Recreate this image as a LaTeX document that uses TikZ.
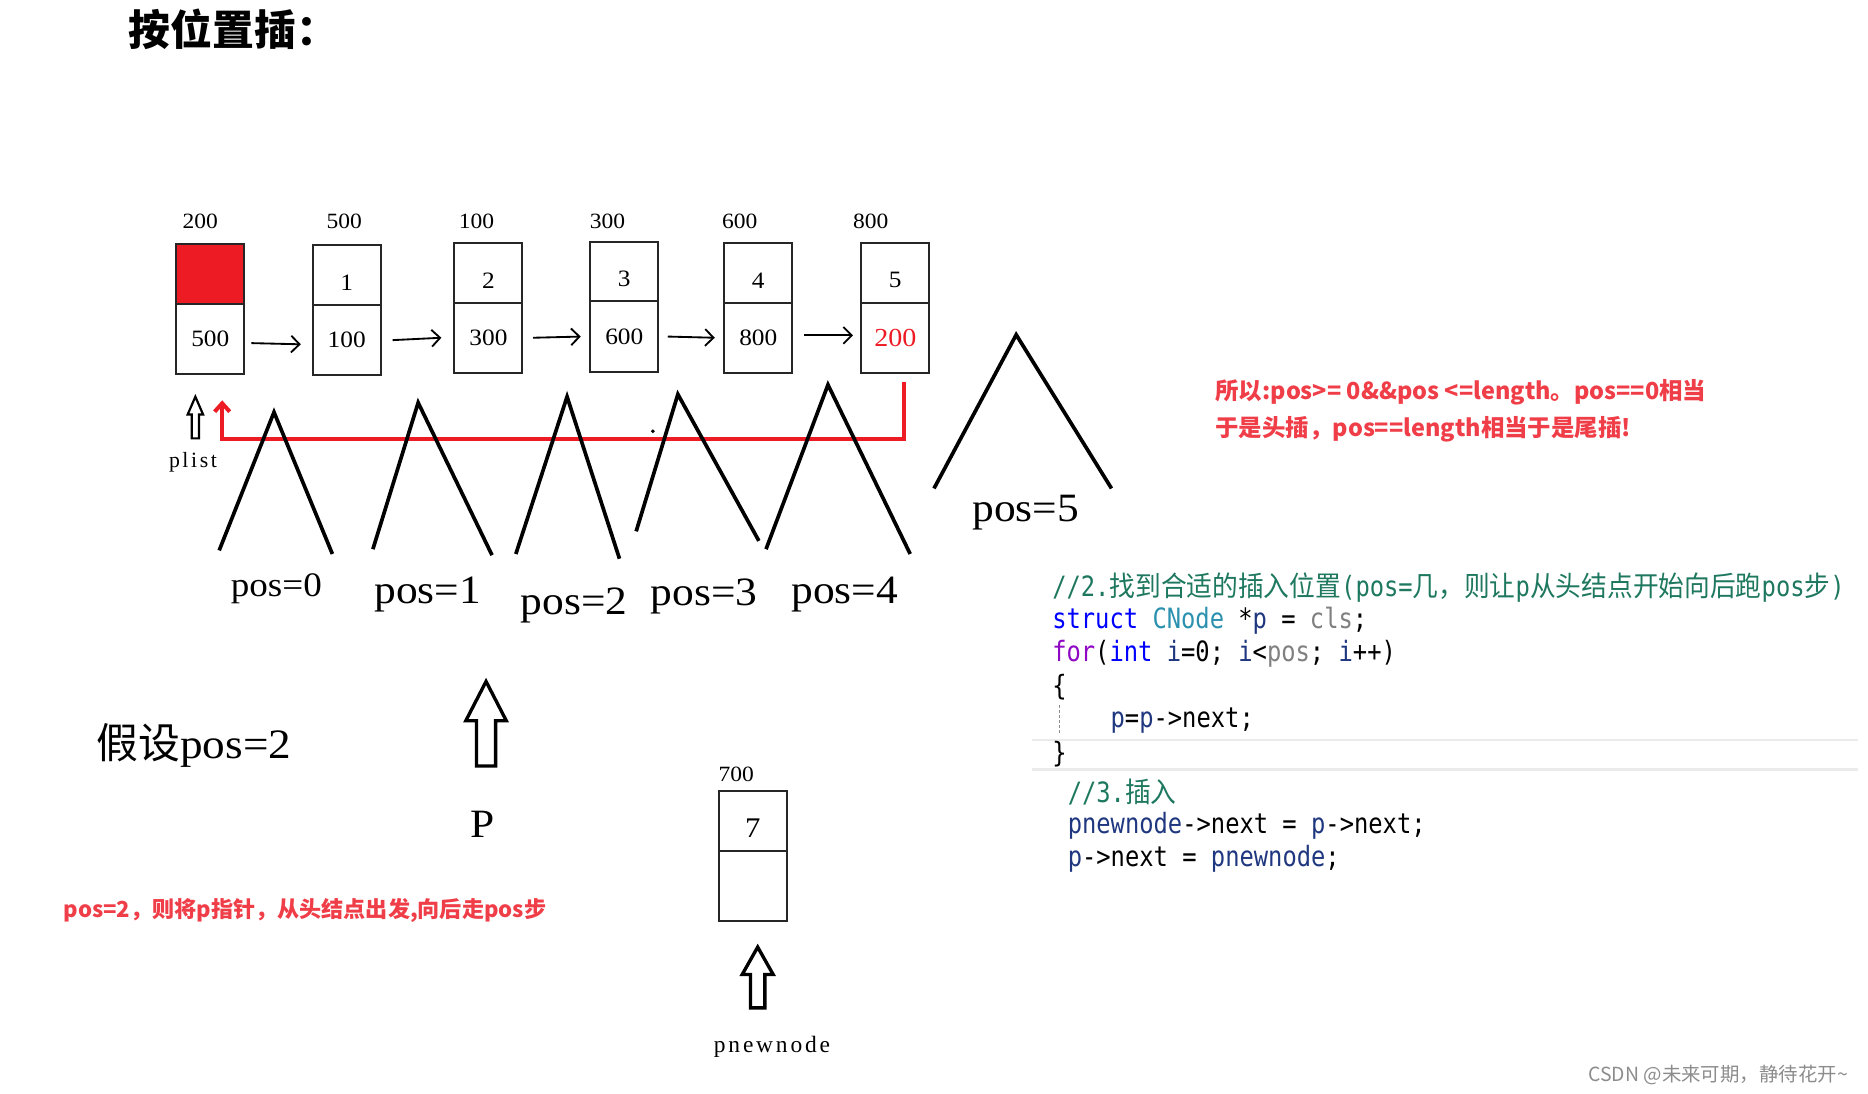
\documentclass[tikz,border=0pt]{standalone}
\usepackage{fontspec}
\setmainfont{Liberation Serif}
\newfontfamily\sketchfont[FakeStretch=1.08]{Liberation Serif}
\newfontfamily\labelfont[LetterSpace=12]{Liberation Serif}
\newfontfamily\cjkfont{Noto Sans CJK SC}
\newfontfamily\codefont[FakeStretch=0.85]{DejaVu Sans Mono}
\newfontfamily\codecjk[FakeStretch=0.92]{Noto Sans CJK SC}
\usetikzlibrary{arrows.meta,calc,positioning}

\definecolor{paintred}{RGB}{237,28,36}
\definecolor{notered}{RGB}{240,62,72}
\definecolor{kwblue}{RGB}{0,0,255}
\definecolor{kwpurple}{RGB}{143,8,196}
\definecolor{typeteal}{RGB}{43,145,175}
\definecolor{varblue}{RGB}{31,55,127}
\definecolor{paramgray}{RGB}{128,128,128}
\definecolor{cmtgreen}{RGB}{30,120,95}

\newcommand\cj[1]{{\codecjk #1}}
\newcommand\low[1]{\raisebox{-4.5pt}[\height][\depth]{#1}}

\begin{document}
\begin{tikzpicture}[
  x=0.025cm, y=-0.025cm,
  cell/.style={draw=black!85,line width=1.2pt,minimum width=1.425cm,inner sep=0pt,outer sep=0pt,
    font=\sketchfont\fontsize{14}{16}\selectfont},
  datacell/.style={cell,minimum height=1.25cm},
  nextcell/.style={cell,minimum height=1.475cm},
  addr/.style={font=\sketchfont\fontsize{13}{15}\selectfont},
  link/.style={line width=1.1pt,-{Straight Barb[length=5pt,width=10pt]}},
  back/.style={draw=paintred,line width=2.4pt},
  peak/.style={line width=2.2pt},
  posl/.style={font=\sketchfont\fontsize{24}{26}\selectfont},
  hollow/.style={draw,line width=2pt,fill=white,line join=miter},
  note/.style={text=notered,font=\cjkfont\bfseries\fontsize{14}{22}\selectfont,align=left,inner sep=0pt},
  code/.style={anchor=west,inner sep=0pt,font=\codefont\fontsize{16.7}{20}\selectfont},
  sep/.style={draw=black!8,line width=1.5pt}
]
\useasboundingbox (0,0) rectangle (1568,918);

\node[anchor=west,font=\cjkfont\bfseries\fontsize{25}{28}\selectfont] (title) at (103,25) {按位置插：};

% the list: data cell on top, next field below
\node[datacell,fill=paintred] (d0) at (176.5,230) {};
\node[nextcell,below=0pt of d0] (n0) {500};
\node[datacell] (d1) at (291,231) {\low{1}};
\node[nextcell,below=0pt of d1] (n1) {100};
\node[datacell] (d2) at (410,229) {\low{2}};
\node[nextcell,below=0pt of d2] (n2) {300};
\node[datacell] (d3) at (524,228) {\low{3}};
\node[nextcell,below=0pt of d3] (n3) {600};
\node[datacell] (d4) at (636.5,229) {\low{4}};
\node[nextcell,below=0pt of d4] (n4) {800};
\node[datacell] (d5) at (751.5,229) {\low{5}};
\node[nextcell,below=0pt of d5,text=paintred,font=\sketchfont\fontsize{15.5}{17}\selectfont] (n5) {200};

\node[addr] (a0) at (168,186) {200};
\node[addr] (a1) at (289,186) {500};
\node[addr] (a2) at (400,186) {100};
\node[addr] (a3) at (510,186) {300};
\node[addr] (a4) at (621,186) {600};
\node[addr] (a5) at (731,186) {800};

\draw[link] ($(n0.east)+(6,3.5)$) -- ($(n1.west)+(-10,3.5)$);
\draw[link] ($(n1.east)+(10,0)$) -- ($(n2.west)+(-11,0)$);
\draw[link] ($(n2.east)+(9,0)$) -- ($(n3.west)+(-8,0)$);
\draw[link] ($(n3.east)+(8,0)$) -- ($(n4.west)+(-8,0)$);
\draw[link] ($(n4.east)+(10,-2)$) -- ($(n5.west)+(-7,-2)$);

% tail points back to the head
\draw[back,-{Straight Barb[length=5pt,width=9pt]}] ($(n5.south)+(7.5,8)$) |- ($(n0.south)+(10,54.5)$) -- ($(n0.south)+(10,22)$);

% plist pointer
\draw[hollow,line width=1.3pt] (161,368) -- (161,348) -- (157.5,348) -- (164,333) -- (170.5,348) -- (167,348) -- (167,368) -- cycle;
\node[font=\labelfont\fontsize{13}{15}\selectfont] (plist) at (162,388) {plist};

% steps
\draw[peak] (184,462) -- (230,346) -- (279,465);
\draw[peak] (313,461) -- (351,338) -- (413,466);
\draw[peak] (433,465) -- (476,333) -- (520,469);
\draw[peak] (534,446) -- (569,331) -- (637,454);
\draw[peak] (643,461) -- (695,323) -- (764,465);
\draw[peak] (784,410) -- (853,281) -- (933,410);
\fill (548,362) circle (1.6);

\node[posl,font=\sketchfont\fontsize{20.5}{22}\selectfont] (pos0) at (232,494) {pos=0};
\node[posl] (pos1) at (359,499) {pos=1};
\node[posl] (pos2) at (482,508) {pos=2};
\node[posl] (pos3) at (591,501) {pos=3};
\node[posl] (pos4) at (709,499) {pos=4};
\node[posl] (pos5) at (861,430) {pos=5};

\node[note,anchor=north west] (rule) at (1020,318)
  {所以:pos>= 0\&\&pos <=length。pos==0相当\\于是头插，pos==length相当于是尾插!};

% assumption and pointer p
\node[anchor=west,font=\sketchfont\fontsize{25}{28}\selectfont] (assume) at (76,626) {{\cjkfont 假设}pos=2};
\draw[hollow] (400,643) -- (400,605) -- (391,605) -- (408,572) -- (425,605) -- (416,605) -- (416,643) -- cycle;
\node[font=\sketchfont\fontsize{24}{26}\selectfont] (pname) at (405,692) {P};
\node[note,anchor=west,font=\cjkfont\bfseries\fontsize{13.2}{16}\selectfont] (walk) at (53,764)
  {pos=2，则将p指针，从头结点出发,向后走pos步};

% node to insert
\node[addr] (a7) at (618,650) {700};
\node[datacell,font=\sketchfont\fontsize{17}{19}\selectfont] (d7) at (632,689) {\low{7}};
\node[nextcell,below=0pt of d7] (n7) {};
\draw[hollow] (630,846) -- (630,818) -- (623,818) -- (636,795) -- (649,818) -- (642,818) -- (642,846) -- cycle;
\node[font=\labelfont\fontsize{14}{16}\selectfont] (pnew) at (648,879) {pnewnode};

% code
\draw[sep] (866,621) -- (1560,621);
\draw[sep] (866,646) -- (1560,646);
\draw[black!45,dash pattern=on 1.5pt off 1.5pt,line width=.6pt] (889,592) -- (889,617);
\node[code] (c1) at (883,493) {\color{cmtgreen}//2.\cj{找到合适的插入位置}(pos=\cj{几，则让}p\cj{从头结点开始向后跑}pos\cj{步})};
\node[code] (c2) at (883,521) {{\color{kwblue}struct} {\color{typeteal}CNode} *{\color{varblue}p} = {\color{paramgray}cls};};
\node[code] (c3) at (883,549) {{\color{kwpurple}for}({\color{kwblue}int} {\color{varblue}i}=0; {\color{varblue}i}<{\color{paramgray}pos}; {\color{varblue}i}++)};
\node[code] (c4) at (883,577) {\{};
\node[code] (c5) at (932,605) {{\color{varblue}p}={\color{varblue}p}->next;};
\node[code] (c6) at (883,633) {\}};
\node[code] (c7) at (896,665) {\color{cmtgreen}//3.\cj{插入}};
\node[code] (c8) at (896,693) {{\color{varblue}pnewnode}->next = {\color{varblue}p}->next;};
\node[code] (c9) at (896,721) {{\color{varblue}p}->next = {\color{varblue}pnewnode};};

\node[anchor=east,text=black!45,font=\cjkfont\fontsize{11.6}{14}\selectfont] (mark) at (1556,902) {CSDN @未来可期，静待花开\textasciitilde};
\end{tikzpicture}
\end{document}
